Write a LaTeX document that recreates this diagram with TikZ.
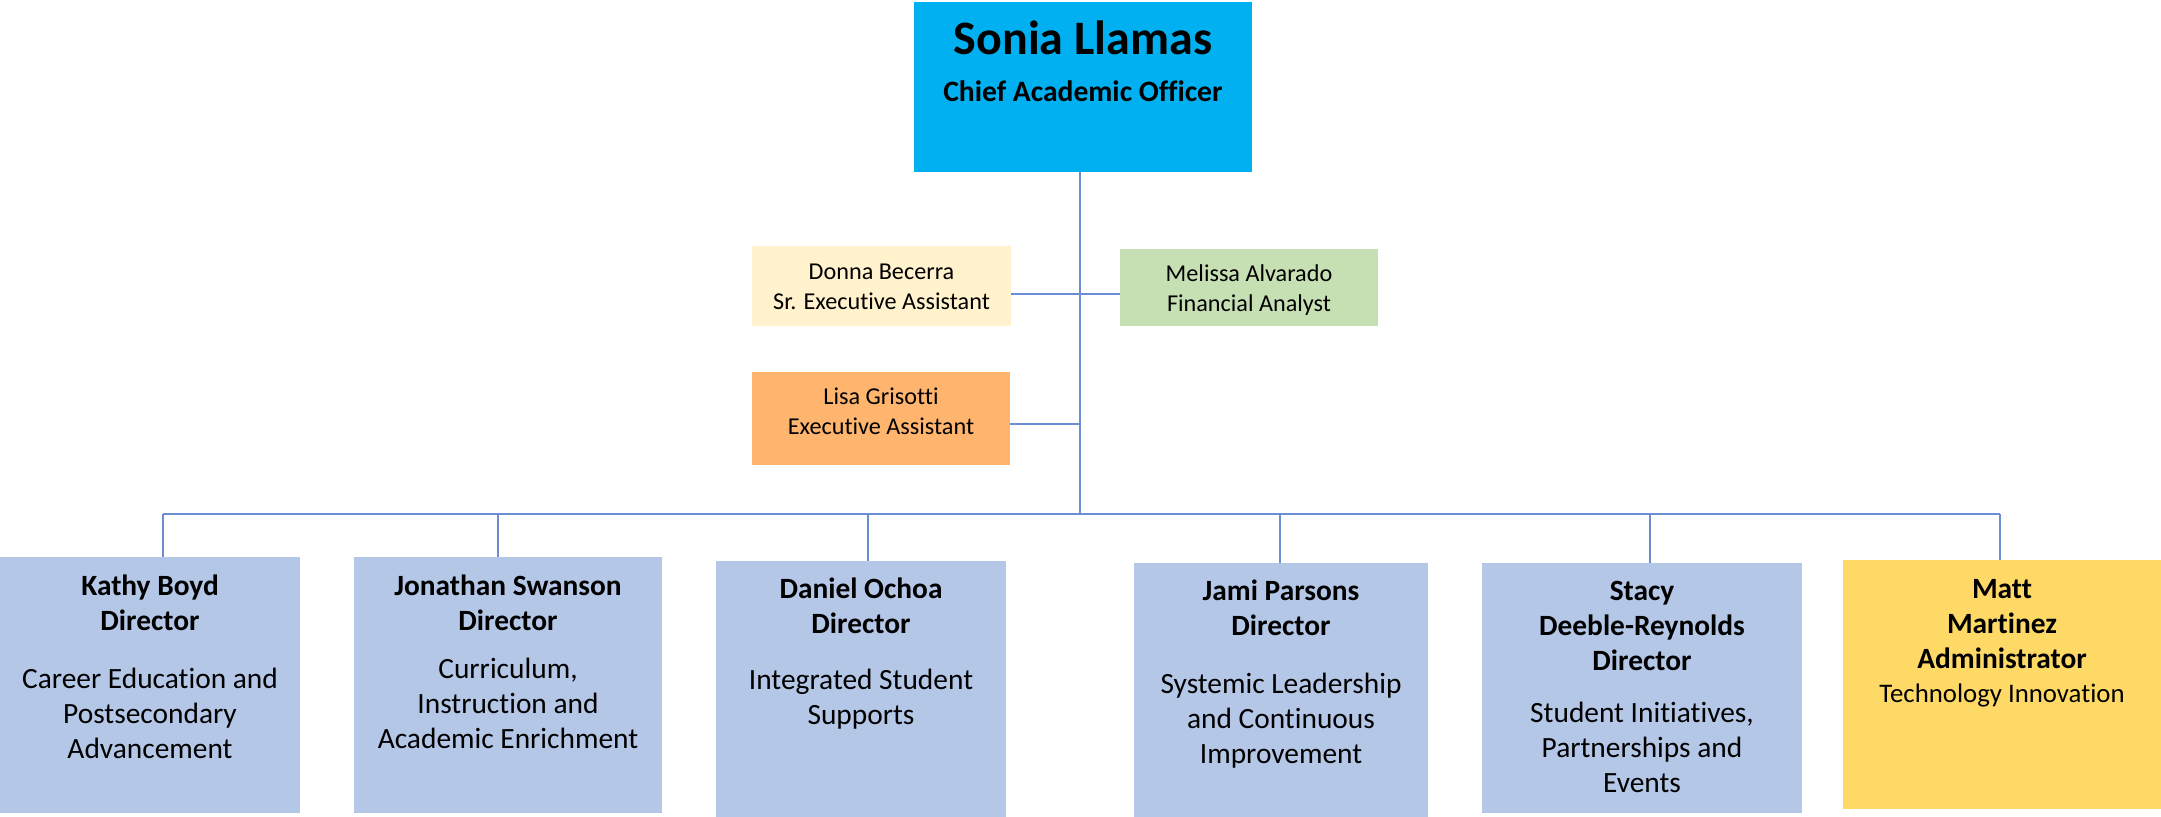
\documentclass[tikz,border=0pt]{standalone}
\usepackage{fontspec}
\setmainfont{Carlito}[Ligatures=NoCommon]
\usepackage{tikz}
\usetikzlibrary{positioning}

\definecolor{caoblue}{HTML}{00B0F0}
\definecolor{dirblue}{HTML}{B4C7E7}
\definecolor{asstyellow}{HTML}{FFF2CC}
\definecolor{analystgreen}{HTML}{C6E0B4}
\definecolor{asstorange}{HTML}{FFB56E}
\definecolor{admingold}{HTML}{FFD966}
\definecolor{linkblue}{HTML}{6A8DD4}

\newcommand{\boxtxt}[4]{\parbox[c][#2][t]{#1}{\centering\rule{0pt}{#3}#4\par}}

\begin{document}
\begin{tikzpicture}[x=0.5pt,y=-0.5pt,line width=1pt,draw=linkblue]

\tikzstyle{box}=[inner sep=0pt,outer sep=0pt,draw=none]
\tikzstyle{small}=[box,font=\fontsize{12.1}{15}\selectfont]
\tikzstyle{big}=[box,font=\fontsize{14.7}{17.5}\selectfont]

\useasboundingbox (0,0) rectangle (2161,817);

\node[box,fill=caoblue] (cao) at (1083,87)
  {\boxtxt{169pt}{85pt}{26.5pt}{{\fontsize{24}{25}\selectfont\bfseries Sonia Llamas}\\
   \fontsize{14.8}{23.5}\selectfont\bfseries Chief Academic Officer}};

\node[small,fill=asstyellow] (donna) at (881.5,286)
  {\boxtxt{129.5pt}{40pt}{17pt}{Donna Becerra\\Sr. Executive Assistant}};
\node[small,fill=analystgreen] (melissa) at (1249,287.5)
  {\boxtxt{129pt}{38.5pt}{16.5pt}{Melissa Alvarado\\Financial Analyst}};
\node[small,fill=asstorange] (lisa) at (881,418.5)
  {\boxtxt{129pt}{46.5pt}{16.5pt}{Lisa Grisotti\\Executive Assistant}};

\node[big,fill=dirblue] (kathy) at (150,685)
  {\boxtxt{150pt}{128pt}{19pt}{\textbf{Kathy Boyd}\\\textbf{Director}\\[11.5pt]
   Career Education and\\Postsecondary\\Advancement}};
\node[big,fill=dirblue] (jonathan) at (508,685)
  {\boxtxt{154pt}{128pt}{19pt}{\textbf{Jonathan Swanson}\\\textbf{Director}\\[6.5pt]
   Curriculum,\\Instruction and\\Academic Enrichment}};
\node[big,fill=dirblue] (daniel) at (861,689)
  {\boxtxt{145pt}{128pt}{18.5pt}{\textbf{Daniel Ochoa}\\\textbf{Director}\\[10.5pt]
   Integrated Student\\Supports}};
\node[big,fill=dirblue] (jami) at (1281,690)
  {\boxtxt{147pt}{127pt}{18.5pt}{\textbf{Jami Parsons}\\\textbf{Director}\\[11.5pt]
   Systemic Leadership\\and Continuous\\Improvement}};
\node[big,fill=dirblue] (stacy) at (1642,688)
  {\boxtxt{160pt}{125pt}{18.5pt}{\textbf{Stacy}\\\textbf{Deeble-Reynolds}\\\textbf{Director}\\[8.5pt]
   Student Initiatives,\\Partnerships and\\Events}};
\node[big,fill=admingold] (matt) at (2002,684.5)
  {\boxtxt{159pt}{124.5pt}{19pt}{\textbf{Matt}\\\textbf{Martinez}\\\textbf{Administrator}\\[-0.5pt]
   \fontsize{13.4}{17.5}\selectfont Technology Innovation}};

\coordinate (bus) at (0,514);
\coordinate (spine) at ([xshift=-1.5pt]cao.south);

\draw (spine) -- (spine |- bus);
\draw ([yshift=-4pt]donna.east) -- ([yshift=-4pt]donna.east -| melissa.west);
\draw ([yshift=-2.75pt]lisa.east) -- ([yshift=-2.75pt]lisa.east -| spine);
\draw ([xshift=6.5pt]kathy.north |- bus) -- ([xshift=-1pt]matt.north |- bus);
\foreach \n/\dx in {kathy/6.5,jonathan/-5,daniel/3.5,jami/-0.5,stacy/4,matt/-1}
  \draw ([xshift=\dx pt]\n.north) -- ([xshift=\dx pt]\n.north |- bus);
\end{tikzpicture}
\end{document}
